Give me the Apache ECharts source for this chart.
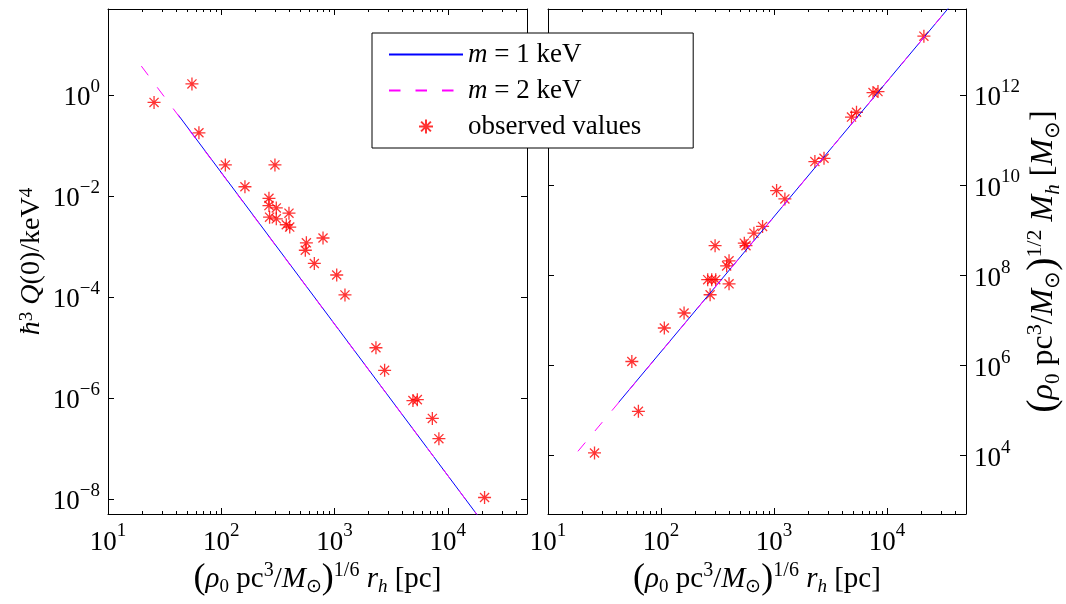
<!DOCTYPE html>
<html>
<head>
<meta charset="utf-8">
<script src="https://cdn.jsdelivr.net/npm/echarts@6/dist/echarts.min.js"></script>
<style>
html, body { margin: 0; padding: 0; background: #fff; }
#main { width: 1066px; height: 604px; }
</style>
</head>
<body>
<div id="main"></div>
<script>
// observed galaxies, left panel: scaled radius vs h^3 Q(0)
const qObsX = [25.5, 55.1, 63.5, 108.6, 161.8, 297.7, 263.6, 263.6, 306, 396, 267, 306, 375, 402,
  564, 552, 791, 663, 1045, 1236, 2320, 2767, 4920, 5380, 7300, 8340, 21100];
const qObsY = [0.706, 1.64, 0.177, 0.0408, 0.0151, 0.0408, 0.00893, 0.0064, 0.00576, 0.00453, 0.00378, 0.0035, 0.00267, 0.0024,
  0.00117, 0.000835, 0.00146, 0.000457, 0.00027, 0.000109, 9.8e-6, 3.5e-6, 8.8e-7, 9.2e-7, 3.9e-7, 1.55e-7, 1.06e-8];

// observed galaxies, right panel: scaled radius vs scaled halo mass
const mObsX = [25.8, 63.1, 55.2, 107, 160, 272, 259, 281, 305, 400, 381, 400, 301, 546, 565, 664, 792,
  1054, 1248, 2300, 2770, 4850, 5370, 7520, 8320, 21200];
const mObsY = [1.13e4, 9.5e4, 1.21e6, 6.7e6, 1.44e7, 3.66e7, 7.9e7, 7.9e7, 7.9e7, 6.4e7, 1.6e8, 2.07e8, 4.5e8, 5.1e8, 4.5e8, 8.5e8, 1.2e9,
  7.5e9, 4.9e9, 3.3e10, 3.9e10, 3.2e11, 4.1e11, 1.12e12, 1.18e12, 2.0e13];

// theory curves (straight in log-log, end points)
const qFit1X = [41.5, 20000];
const qFit1Y = [0.405, 3.6e-9];
const qFit2X = [19.7, 20000];
const qFit2Y = [3.7, 3.6e-9];
const mFit1X = [42.2, 35000];
const mFit1Y = [1.5e5, 8.4e13];
const mFit2X = [18.4, 35000];
const mFit2Y = [1.23e4, 8.4e13];

// ticks
const xMajor = [10, 100, 1000, 10000];
const xMinor = [20, 30, 40, 50, 60, 70, 80, 90, 200, 300, 400, 500, 600, 700, 800, 900,
  2000, 3000, 4000, 5000, 6000, 7000, 8000, 9000, 20000, 30000, 40000];
const qTicks = [1e-8, 1e-6, 1e-4, 1e-2, 1];
const mTicks = [1e4, 1e6, 1e8, 1e10, 1e12];

const FONT = 'Liberation Serif';
const zip = (xs, ys) => xs.map((x, i) => [x, ys[i]]);
const star = 'path://M10,0L10,20M0,10L20,10M3,3L17,17M3,17L17,3';

// text pieces: plain / italic / big paren / superscript / subscript, at a given size
function styles(p, size) {
  const o = {};
  o[p + 't'] = { fontFamily: FONT, fontSize: size, color: '#000' };
  o[p + 'i'] = { fontFamily: FONT, fontSize: size, fontStyle: 'italic', color: '#000' };
  o[p + 'p'] = { fontFamily: FONT, fontSize: Math.round(size * 1.24), color: '#000' };
  o[p + 'u'] = { fontFamily: FONT, fontSize: Math.round(size * 0.69), color: '#000', verticalAlign: 'top', lineHeight: Math.round(size * 0.62) };
  o[p + 'd'] = { fontFamily: FONT, fontSize: Math.round(size * 0.66), color: '#000', verticalAlign: 'bottom', lineHeight: Math.round(size * 0.55) };
  o[p + 'di'] = Object.assign({}, o[p + 'd'], { fontStyle: 'italic' });
  return o;
}
const rich = Object.assign(
  {
    b: { fontFamily: FONT, fontSize: 27, color: '#000', lineHeight: 34, verticalAlign: 'bottom' },
    s: { fontFamily: FONT, fontSize: 19, color: '#000', lineHeight: 18, verticalAlign: 'top' }
  },
  styles('x', 29), styles('q', 28), styles('m', 32), styles('l', 27)
);

function pow10(v) {
  const n = Math.round(Math.log10(v));
  return '{b|10}{s|' + (n < 0 ? '\u2212' + (-n) : n) + '}';
}

const xName = '{xp|(}{xi|\u03c1}{xd|0}{xt| pc}{xu|3}{xt|/}{xi|M}{xd|\u2299}{xp|)}{xu|1/6}{xt| }{xi|r}{xdi|h}{xt| [pc]}';
const qName = '{qi|\u0127}{qu|3}{qt| }{qi|Q}{qt|(0)/keV}{qu|4}';
const mName = '{mp|(}{mi|\u03c1}{md|0}{mt| pc}{mu|3}{mt|/}{mi|M}{md|\u2299}{mp|)}{mu|1/2}{mt| }{mi|M}{mdi|h}{mt| [}{mi|M}{md|\u2299}{mt|]}';

const line = { show: true, lineStyle: { color: '#000', width: 1 } };

function xAxes(grid) {
  const base = { type: 'log', logBase: 10, gridIndex: grid, min: 10, max: 50000, splitLine: { show: false } };
  return [
    Object.assign({}, base, {
      position: 'bottom', axisLine: line,
      axisTick: { inside: true, length: 6, customValues: xMajor, lineStyle: { color: '#000' } },
      axisLabel: { customValues: xMajor, formatter: pow10, rich: rich, margin: 8 },
      name: xName, nameLocation: 'middle', nameGap: 44, nameTextStyle: { rich: rich }
    }),
    Object.assign({}, base, {
      position: 'bottom', axisLine: { show: false },
      axisTick: { inside: true, length: 3, customValues: xMinor, lineStyle: { color: '#000' } },
      axisLabel: { show: false }
    }),
    Object.assign({}, base, {
      position: 'top', axisLine: line,
      axisTick: { inside: true, length: 6, customValues: xMajor, lineStyle: { color: '#000' } },
      axisLabel: { show: false }
    }),
    Object.assign({}, base, {
      position: 'top', axisLine: { show: false },
      axisTick: { inside: true, length: 3, customValues: xMinor, lineStyle: { color: '#000' } },
      axisLabel: { show: false }
    })
  ];
}

function yAxes(grid, min, max, ticks, name, labelSide, gap) {
  const base = { type: 'log', logBase: 10, gridIndex: grid, min: min, max: max, splitLine: { show: false }, axisLine: line };
  const sides = ['left', 'right'];
  return sides.map(side => {
    const ax = Object.assign({}, base, {
      position: side,
      axisTick: { inside: true, length: 6, customValues: ticks, lineStyle: { color: '#000' } },
      axisLabel: { show: false }
    });
    if (side === labelSide) {
      ax.axisLabel = { customValues: ticks, formatter: pow10, rich: rich, margin: 8 };
      ax.name = name;
      ax.nameLocation = 'middle';
      ax.nameGap = gap;
      ax.nameRotate = 90;
      ax.nameTextStyle = { rich: rich };
    }
    return ax;
  });
}

const fitLine = (name, color, dash, data, xi, yi) => ({
  name: name, type: 'line', xAxisIndex: xi, yAxisIndex: yi, data: data,
  symbol: 'none', clip: true, silent: true, animation: false,
  lineStyle: { color: color, width: 1, type: dash },
  itemStyle: { color: color }
});

const obs = (data, xi, yi) => ({
  name: 'observed values', type: 'scatter', xAxisIndex: xi, yAxisIndex: yi, data: data,
  symbol: star, symbolSize: 13, animation: false,
  itemStyle: { color: '#ff0000', borderColor: '#ff0000', borderWidth: 1.3 }
});

const chart = echarts.init(document.getElementById('main'));
chart.setOption({
  animation: false,
  grid: [
    { left: 108, top: 9, width: 419, height: 505 },
    { left: 548, top: 9, width: 418, height: 505 }
  ],
  xAxis: xAxes(0).concat(xAxes(1)),
  yAxis: yAxes(0, 5e-9, 50, qTicks, qName, 'left', 62).concat(yAxes(1, 500, 8e13, mTicks, mName, 'right', 56)),
  legend: {
    left: 372, top: 33, orient: 'vertical',
    backgroundColor: '#fff', borderColor: '#000', borderWidth: 1, borderRadius: 0,
    padding: [8, 52, 8, 16], itemGap: 9, itemWidth: 74, itemHeight: 14,
    data: [
      { name: 'm = 1 keV', itemStyle: { opacity: 0 } },
      { name: 'm = 2 keV', itemStyle: { opacity: 0 } },
      { name: 'observed values' }
    ],
    formatter: n => n.charAt(0) === 'm' ? '{li|m}{lt|' + n.slice(1) + '}' : '{lt|' + n + '}',
    textStyle: { fontFamily: FONT, fontSize: 27, lineHeight: 26, color: '#000', rich: rich }
  },
  series: [
    fitLine('m = 1 keV', '#0000ff', 'solid', zip(qFit1X, qFit1Y), 0, 0),
    fitLine('m = 2 keV', '#ff00ff', [11.5, 15], zip(qFit2X, qFit2Y), 0, 0),
    obs(zip(qObsX, qObsY), 0, 0),
    fitLine('m = 1 keV', '#0000ff', 'solid', zip(mFit1X, mFit1Y), 4, 2),
    fitLine('m = 2 keV', '#ff00ff', [11.5, 15], zip(mFit2X, mFit2Y), 4, 2),
    obs(zip(mObsX, mObsY), 4, 2)
  ]
});
</script>
</body>
</html>
